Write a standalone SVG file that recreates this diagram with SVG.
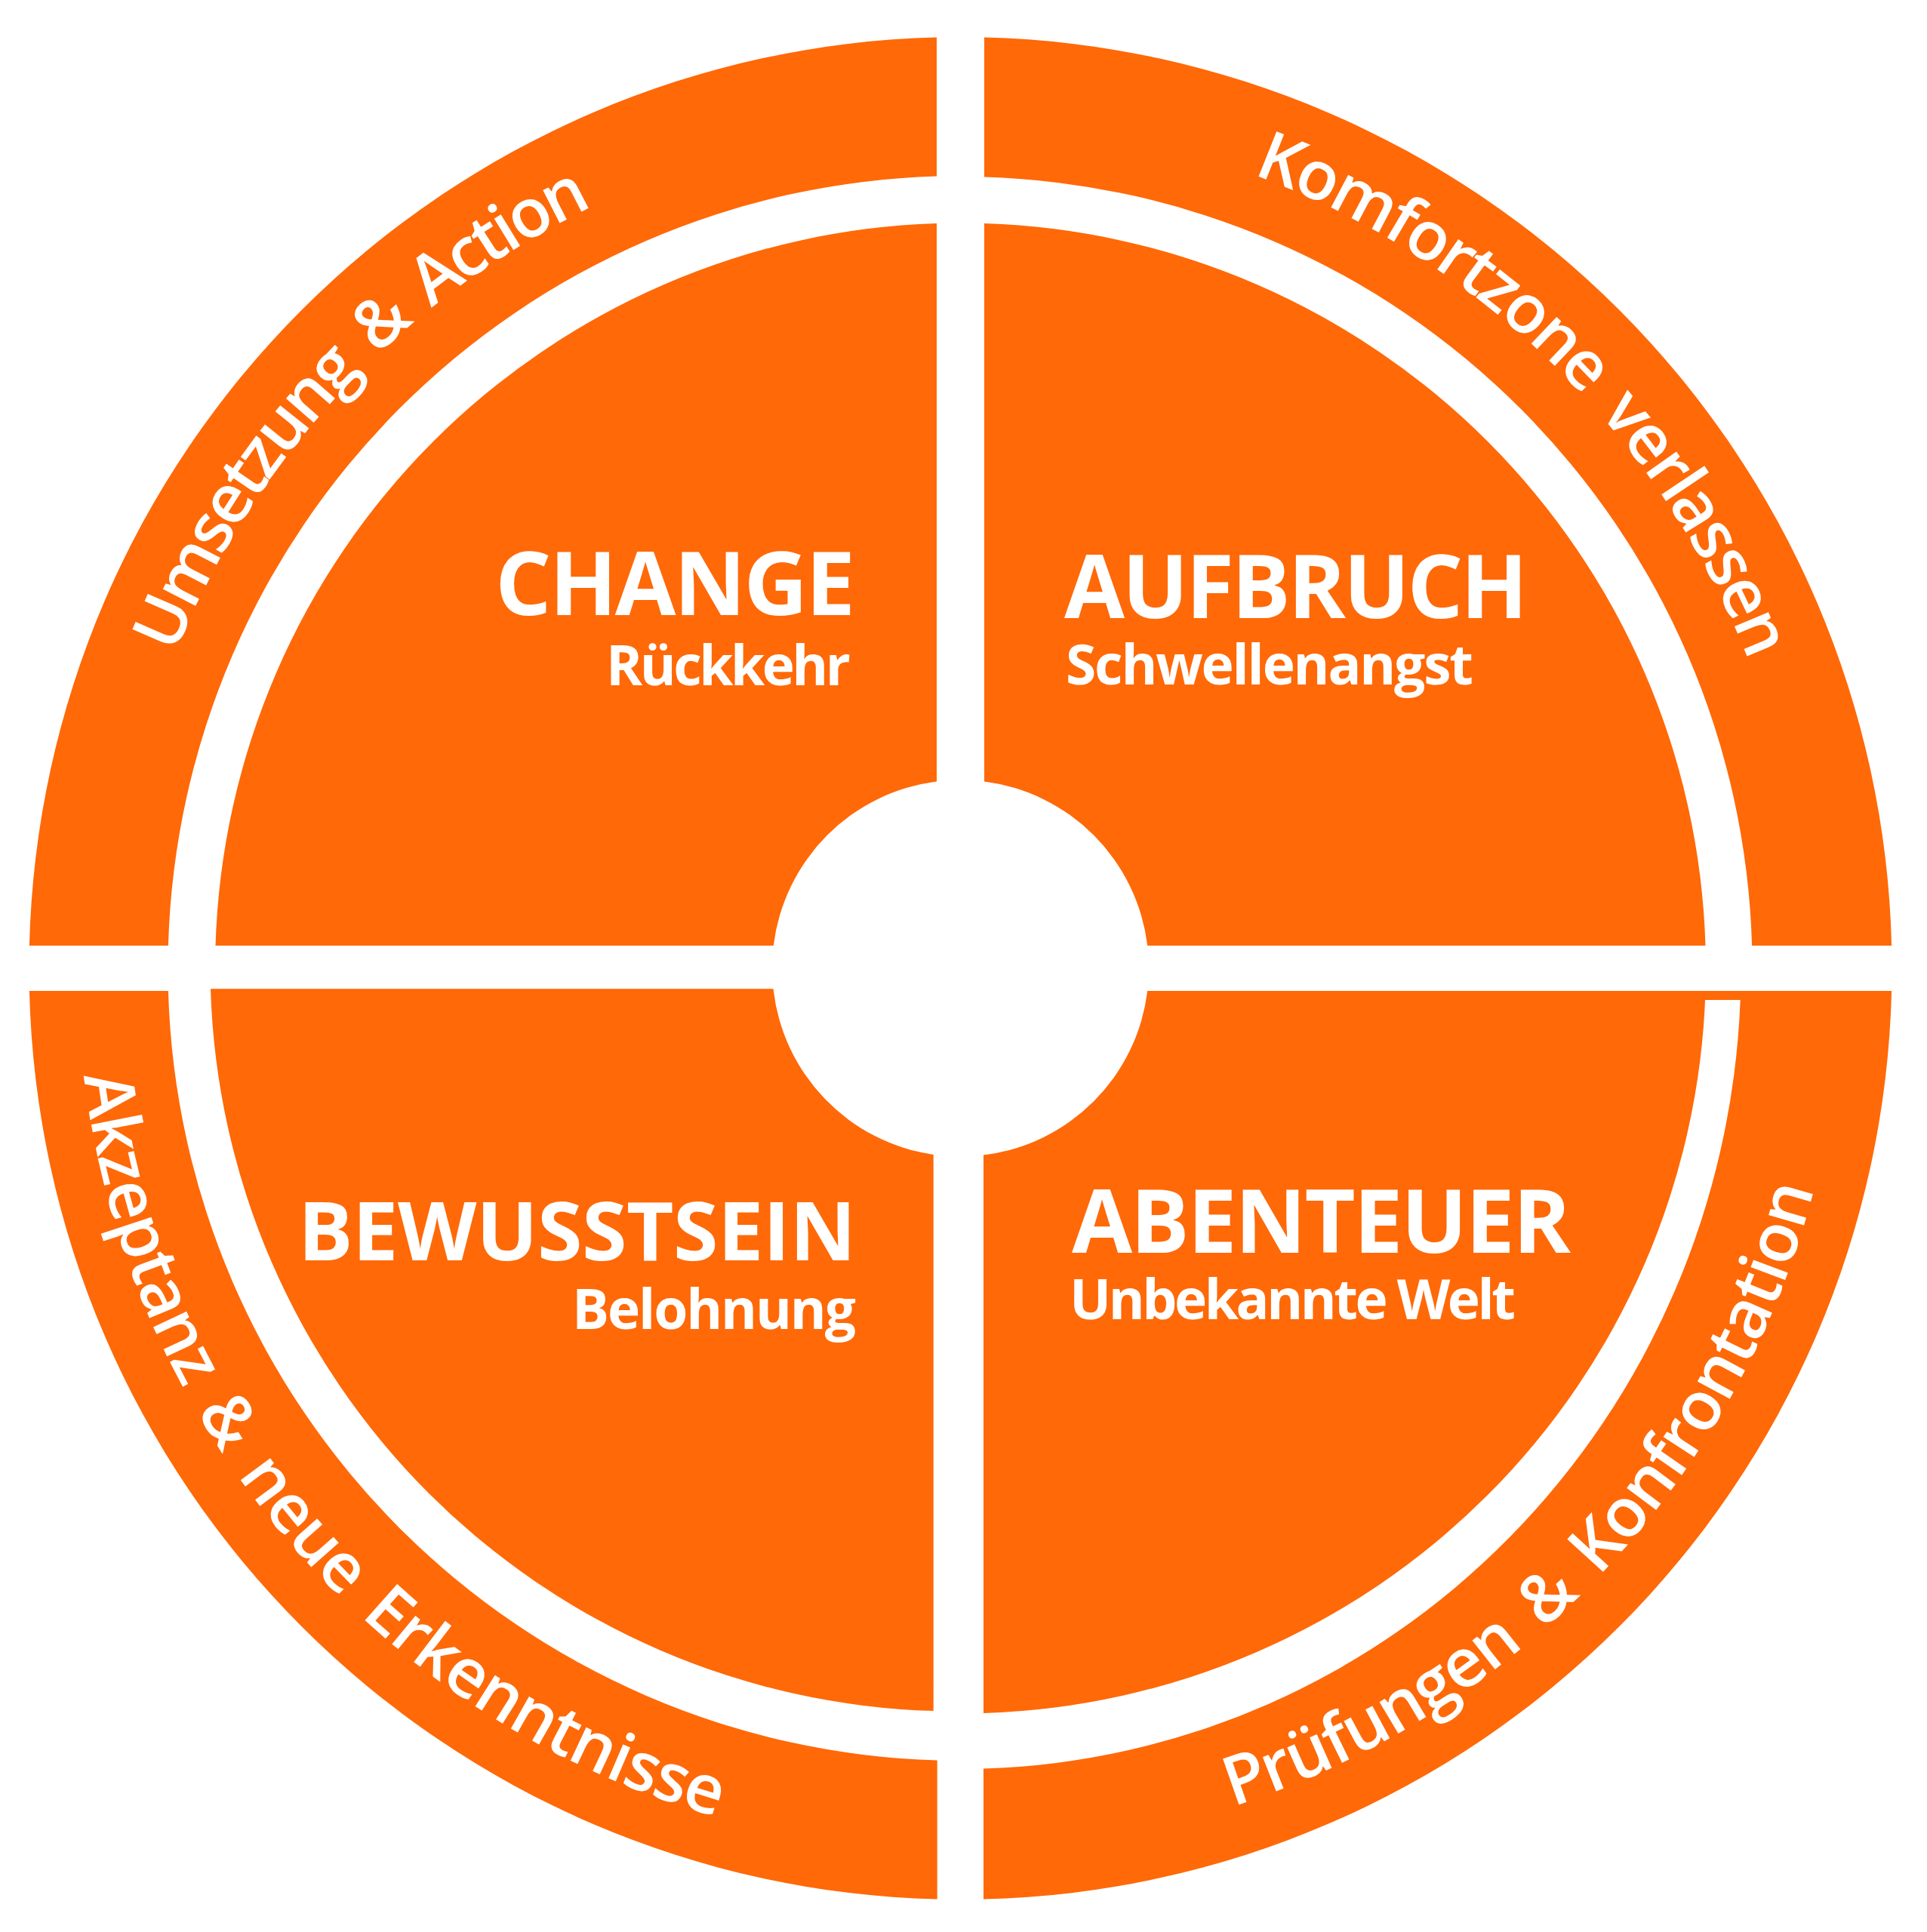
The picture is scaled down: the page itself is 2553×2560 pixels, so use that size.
<svg xmlns="http://www.w3.org/2000/svg" width="2553" height="2560" viewBox="0 0 2553 2560">
<style>
.seg{fill:#FF6908}
.title{font-family:"Open Sans","Noto Sans","Liberation Sans",sans-serif;font-weight:700;fill:#FFFFFF}
.ring{font-family:"Open Sans","Noto Sans","Liberation Sans",sans-serif;font-weight:600;font-size:90px;word-spacing:14px;fill:#FFFFFF}
</style>
<defs>
<path id="arcTL" d="M231.7,866.7 A1121,1121 0 0 1 786.4,272.9"/>
<path id="arcTR" d="M1659.6,231 A1121,1121 0 0 1 2316.9,875.8"/>
<path id="arcBL" d="M111.2,1425.6 A1170,1170 0 0 0 950,2407.7"/>
<path id="arcBR" d="M1633.4,2393.8 A1168,1168 0 0 0 2403.3,1575.4"/>
</defs>
<rect width="2553" height="2560" fill="#FFFFFF"/>

<g id="change">
<path class="seg" d="M1241,49.4 A1234,1234 0 0 0 38.9,1253 L222.9,1253 A1050,1050 0 0 1 1241,233.5 Z"/>
<path class="seg" d="M1241,296 A987.5,987.5 0 0 0 285.5,1253 L1024.8,1253 A249.5,249.5 0 0 1 1241,1035.5 Z"/>
<text class="title" x="656" y="815" font-size="117" textLength="477" lengthAdjust="spacing">CHANGE</text>
<text class="title" x="803" y="908" font-size="73" textLength="324" lengthAdjust="spacing">Rückkehr</text>
<text class="ring"><textPath href="#arcTL" textLength="831" lengthAdjust="spacing">Umsetzung &amp; Action</textPath></text>
</g>

<g id="aufbruch">
<path class="seg" d="M1304,49.4 A1234,1234 0 0 1 2506.1,1253 L2321.1,1253 A1049,1049 0 0 0 1304,234.5 Z"/>
<path class="seg" d="M1304,296 A987.5,987.5 0 0 1 2259.5,1253 L1520.2,1253 A249.5,249.5 0 0 0 1304,1035.5 Z"/>
<text class="title" x="1410" y="819" font-size="116" textLength="614" lengthAdjust="spacing">AUFBRUCH</text>
<text class="title" x="1412" y="907" font-size="73" textLength="540" lengthAdjust="spacing">Schwellenangst</text>
<text class="ring"><textPath href="#arcTR" textLength="949" lengthAdjust="spacing">Komfortzone verlassen</textPath></text>
</g>

<g id="bewusstsein">
<path class="seg" d="M38.9,1313 A1234,1234 0 0 0 1241.7,2516.6 L1241.7,2332.5 A1050,1050 0 0 1 222.9,1313 Z"/>
<path class="seg" d="M279,1310.3 A987.5,987.5 0 0 0 1236.7,2267.1 L1236.7,1529.9 A249.5,249.5 0 0 1 1024.5,1310.3 Z"/>
<text class="title" x="395" y="1670" font-size="108" textLength="739" lengthAdjust="spacing">BEWUSSTSEIN</text>
<text class="title" x="758" y="1761" font-size="73" textLength="376" lengthAdjust="spacing">Belohnung</text>
<text class="ring"><textPath href="#arcBL" textLength="1368" lengthAdjust="spacing">Akzeptanz &amp; neue Erkenntnisse</textPath></text>
</g>

<g id="abenteuer">
<path class="seg" d="M2506.1,1313 A1234,1234 0 0 1 1303,2516.6 L1303,2343.5 A1034,1061 0 0 0 2305.7,1325 L2259,1325 L2259,1313 Z"/>
<path class="seg" d="M1520.2,1313 L2259.5,1313 A987.5,987.5 0 0 1 1303,2270 L1303,1530.6 A249.5,249.5 0 0 0 1520.2,1313 Z"/>
<text class="title" x="1420" y="1660" font-size="116" textLength="661" lengthAdjust="spacing">ABENTEUER</text>
<text class="title" x="1417" y="1748" font-size="73" textLength="591" lengthAdjust="spacing">Unbekannte Welt</text>
<text class="ring"><textPath href="#arcBR" textLength="1172" lengthAdjust="spacing">Prüfungen &amp; Konfrontation</textPath></text>
</g>
</svg>
